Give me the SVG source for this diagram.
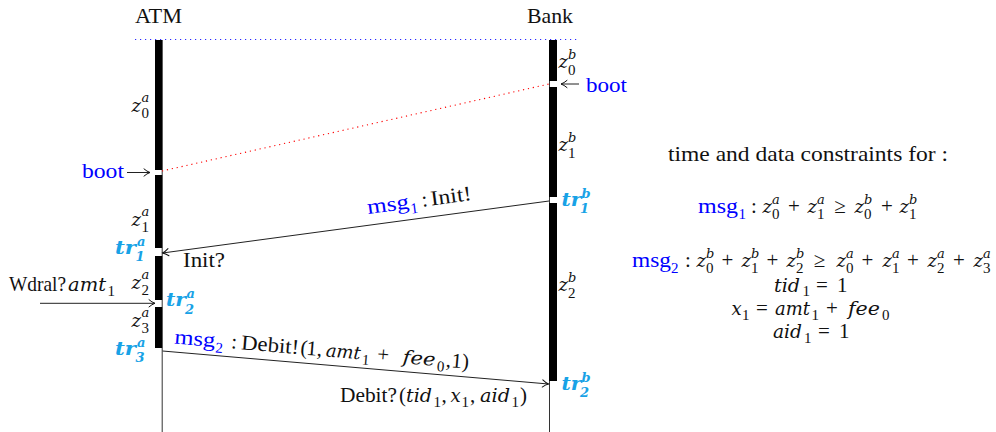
<svg xmlns="http://www.w3.org/2000/svg" width="996" height="432" viewBox="0 0 996 432">
<style>
text{font-family:"Liberation Serif","Times New Roman",serif;font-size:21px;fill:#111}
.i{font-family:"DejaVu Serif",serif;font-style:italic;font-size:18px}
.s{font-size:15px}
.i.s{font-size:13px}
.bl{fill:#0000ff}
.tr{font-family:"DejaVu Serif",serif;fill:#18a2e6;font-weight:bold;font-style:italic;font-size:18px}
.tr .s{font-size:13px}
.mid{text-anchor:middle}
.life{stroke:#333;stroke-width:1}
.bar{fill:#000}
.arr{stroke:#222;stroke-width:1;fill:none;marker-end:url(#ah)}
</style>
<defs>
<marker id="ah" viewBox="0 0 10 10" refX="9" refY="5" markerWidth="10" markerHeight="10" orient="auto" markerUnits="userSpaceOnUse">
<path d="M3,1.4 Q6,4 9,5 Q6,6 3,8.6" fill="none" stroke="#111" stroke-width="1" stroke-linecap="round"/>
</marker>
</defs>
<rect width="996" height="432" fill="#fff"/>
<line x1="135" y1="39.5" x2="578" y2="39.5" stroke="#2a2aff" stroke-width="1.1" stroke-dasharray="1.2 3.8"/>

<g id="atm">
<text x="135" y="23" textLength="47" lengthAdjust="spacingAndGlyphs">ATM</text>
<line class="life" x1="162.2" y1="40" x2="162.2" y2="432"/>
<rect class="bar" x="155" y="40" width="7.2" height="130"/>
<rect class="bar" x="155" y="175" width="7.2" height="73"/>
<rect class="bar" x="155" y="256" width="7.2" height="44"/>
<rect class="bar" x="155" y="307" width="7.2" height="41"/>
<text><tspan class="i" x="131.5" y="112">z</tspan><tspan class="i s" x="141.5" y="102">a</tspan><tspan class="s" x="141.5" y="118">0</tspan></text>
<text><tspan class="i" x="131.5" y="226">z</tspan><tspan class="i s" x="141.5" y="216">a</tspan><tspan class="s" x="141.5" y="232">1</tspan></text>
<text><tspan class="i" x="131.5" y="289">z</tspan><tspan class="i s" x="141.5" y="279">a</tspan><tspan class="s" x="141.5" y="295">2</tspan></text>
<text><tspan class="i" x="131.5" y="327">z</tspan><tspan class="i s" x="141.5" y="317">a</tspan><tspan class="s" x="141.5" y="333">3</tspan></text>
<text class="tr" x="115" y="254" textLength="21" lengthAdjust="spacingAndGlyphs">tr</text>
<text class="tr"><tspan class="s" x="137" y="246">a</tspan><tspan class="s" x="135.5" y="261">1</tspan></text>
<text class="tr" x="166" y="306" textLength="20" lengthAdjust="spacingAndGlyphs">tr</text>
<text class="tr"><tspan class="s" x="186.5" y="298">a</tspan><tspan class="s" x="185" y="314">2</tspan></text>
<text class="tr" x="115" y="355" textLength="21" lengthAdjust="spacingAndGlyphs">tr</text>
<text class="tr"><tspan class="s" x="137" y="347">a</tspan><tspan class="s" x="135.5" y="362">3</tspan></text>
<text class="bl" x="82" y="178" textLength="42" lengthAdjust="spacingAndGlyphs">boot</text>
</g>

<g id="bank">
<text x="527" y="23" textLength="46" lengthAdjust="spacingAndGlyphs">Bank</text>
<line class="life" x1="549.5" y1="40" x2="549.5" y2="432"/>
<rect class="bar" x="549" y="40" width="8" height="41"/>
<rect class="bar" x="549" y="87" width="8" height="110"/>
<rect class="bar" x="549" y="203" width="8" height="178"/>
<text><tspan class="i" x="558.5" y="68">z</tspan><tspan class="i s" x="568" y="59">b</tspan><tspan class="s" x="568" y="75">0</tspan></text>
<text><tspan class="i" x="558.5" y="151">z</tspan><tspan class="i s" x="568" y="142">b</tspan><tspan class="s" x="568" y="158">1</tspan></text>
<text><tspan class="i" x="558.5" y="291">z</tspan><tspan class="i s" x="568" y="282">b</tspan><tspan class="s" x="568" y="298">2</tspan></text>
<text class="tr" x="561.5" y="206" textLength="20" lengthAdjust="spacingAndGlyphs">tr</text>
<text class="tr"><tspan class="s" x="581.5" y="198">b</tspan><tspan class="s" x="580" y="213">1</tspan></text>
<text class="tr" x="561.5" y="390" textLength="20" lengthAdjust="spacingAndGlyphs">tr</text>
<text class="tr"><tspan class="s" x="581.5" y="382">b</tspan><tspan class="s" x="580" y="397">2</tspan></text>
<text class="bl" x="586" y="92" textLength="41" lengthAdjust="spacingAndGlyphs">boot</text>
</g>

<g id="connectors">
<line class="arr" x1="127" y1="172.5" x2="150" y2="172.5"/>
<line class="arr" x1="579" y1="84" x2="561" y2="84"/>
<line x1="162" y1="171" x2="549" y2="84" stroke="#ff0000" stroke-width="1.1" stroke-dasharray="1.2 3.8"/>
<line class="arr" x1="549" y1="201" x2="162.5" y2="253"/>
<line class="arr" x1="162.5" y1="351" x2="548.5" y2="384"/>
<line class="arr" x1="40" y1="303.3" x2="155" y2="303.3"/>
</g>

<g id="msg1-label" transform="translate(368,214) rotate(-7.65)">
<text class="bl" x="0" y="0" textLength="42" lengthAdjust="spacingAndGlyphs">msg</text>
<text class="bl s" x="43" y="5.5">1</text>
<text x="55" y="0">:</text>
<text x="64" y="0" textLength="41" lengthAdjust="spacingAndGlyphs">Init!</text>
</g>
<text id="init-recv" x="183" y="267" textLength="42" lengthAdjust="spacingAndGlyphs">Init?</text>

<g id="msg2-label" transform="translate(174,343.5) rotate(4.89)">
<text class="bl" x="0" y="0" textLength="41" lengthAdjust="spacingAndGlyphs">msg</text>
<text class="bl s" x="41.5" y="5.5">2</text>
<text x="57" y="0">:</text>
<text x="67" y="0" textLength="58" lengthAdjust="spacingAndGlyphs">Debit!</text>
<text x="126.5" y="0">(</text>
<text x="132.5" y="0">1,</text>
<text class="i" x="152" y="0" textLength="35" lengthAdjust="spacingAndGlyphs">amt</text>
<text class="s" x="188.5" y="5">1</text>
<text class="mid" x="209.5" y="0">+</text>
<text class="i" x="229" y="0" textLength="33" lengthAdjust="spacingAndGlyphs">fee</text>
<text class="s" x="264" y="5">0</text>
<text x="272.5" y="0">,</text>
<text x="278" y="0">1)</text>
</g>

<g id="debit-recv">
<text x="340" y="402" textLength="57" lengthAdjust="spacingAndGlyphs">Debit?</text>
<text x="399" y="402">(</text>
<text class="i" x="406" y="402" textLength="26" lengthAdjust="spacingAndGlyphs">tid</text>
<text class="s" x="433.5" y="407">1</text>
<text x="441.5" y="402">,</text>
<text class="i" x="450.5" y="402">x</text>
<text class="s" x="461.5" y="407">1</text>
<text x="470" y="402">,</text>
<text class="i" x="480" y="402" textLength="30" lengthAdjust="spacingAndGlyphs">aid</text>
<text class="s" x="511.5" y="407">1</text>
<text x="520" y="402">)</text>
</g>

<g id="wdral">
<text x="9" y="291" textLength="57" lengthAdjust="spacingAndGlyphs">Wdral?</text>
<text class="i" x="68" y="291" textLength="38" lengthAdjust="spacingAndGlyphs">amt</text>
<text class="s" x="107.5" y="296">1</text>
</g>

<g id="constraints">
<text x="668" y="161" textLength="280" lengthAdjust="spacingAndGlyphs">time and data constraints for :</text>

<text class="bl" x="698" y="213" textLength="40" lengthAdjust="spacingAndGlyphs">msg</text>
<text class="bl s" x="738.5" y="218.5">1</text>
<text x="751" y="213">:</text>
<text><tspan class="i" x="762.5" y="213">z</tspan><tspan class="i s" x="772" y="204">a</tspan><tspan class="s" x="772" y="219">0</tspan></text>
<text class="mid" x="794" y="213">+</text>
<text><tspan class="i" x="807.5" y="213">z</tspan><tspan class="i s" x="817" y="204">a</tspan><tspan class="s" x="817" y="219">1</tspan></text>
<text class="mid" x="840" y="213">≥</text>
<text><tspan class="i" x="854.5" y="213">z</tspan><tspan class="i s" x="864" y="204">b</tspan><tspan class="s" x="864" y="219">0</tspan></text>
<text class="mid" x="887" y="213">+</text>
<text><tspan class="i" x="899.5" y="213">z</tspan><tspan class="i s" x="909" y="204">b</tspan><tspan class="s" x="909" y="219">1</tspan></text>

<text class="bl" x="632" y="267" textLength="39" lengthAdjust="spacingAndGlyphs">msg</text>
<text class="bl s" x="671" y="272.5">2</text>
<text x="685" y="267">:</text>
<text><tspan class="i" x="696.5" y="267">z</tspan><tspan class="i s" x="706" y="258">b</tspan><tspan class="s" x="706" y="273">0</tspan></text>
<text class="mid" x="727.5" y="267">+</text>
<text><tspan class="i" x="741.5" y="267">z</tspan><tspan class="i s" x="751" y="258">b</tspan><tspan class="s" x="751" y="273">1</tspan></text>
<text class="mid" x="772.5" y="267">+</text>
<text><tspan class="i" x="786.5" y="267">z</tspan><tspan class="i s" x="796" y="258">b</tspan><tspan class="s" x="796" y="273">2</tspan></text>
<text class="mid" x="819.5" y="267">≥</text>
<text><tspan class="i" x="836.5" y="267">z</tspan><tspan class="i s" x="846" y="258">a</tspan><tspan class="s" x="846" y="273">0</tspan></text>
<text class="mid" x="867.5" y="267">+</text>
<text><tspan class="i" x="882.5" y="267">z</tspan><tspan class="i s" x="892" y="258">a</tspan><tspan class="s" x="892" y="273">1</tspan></text>
<text class="mid" x="913" y="267">+</text>
<text><tspan class="i" x="927.5" y="267">z</tspan><tspan class="i s" x="937" y="258">a</tspan><tspan class="s" x="937" y="273">2</tspan></text>
<text class="mid" x="959" y="267">+</text>
<text><tspan class="i" x="973.5" y="267">z</tspan><tspan class="i s" x="983" y="258">a</tspan><tspan class="s" x="983" y="273">3</tspan></text>

<text class="i" x="774" y="292" textLength="26" lengthAdjust="spacingAndGlyphs">tid</text>
<text class="s" x="802.5" y="296">1</text>
<text class="mid" x="822" y="292">=</text>
<text x="837" y="292">1</text>

<text class="i" x="731.5" y="315">x</text>
<text class="s" x="742" y="320">1</text>
<text class="mid" x="762" y="315">=</text>
<text class="i" x="775" y="315" textLength="35" lengthAdjust="spacingAndGlyphs">amt</text>
<text class="s" x="811.5" y="320">1</text>
<text class="mid" x="832" y="315">+</text>
<text class="i" x="848" y="315" textLength="32" lengthAdjust="spacingAndGlyphs">fee</text>
<text class="s" x="882" y="320">0</text>

<text class="i" x="773" y="338" textLength="29" lengthAdjust="spacingAndGlyphs">aid</text>
<text class="s" x="804" y="343">1</text>
<text class="mid" x="824" y="338">=</text>
<text x="839" y="338">1</text>
</g>
</svg>
